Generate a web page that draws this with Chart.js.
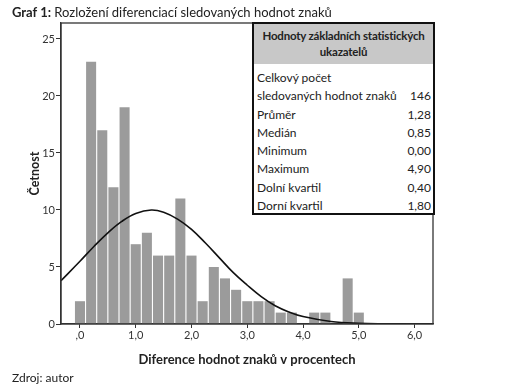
<!DOCTYPE html>
<html>
<head>
<meta charset="utf-8">
<script src="https://cdn.jsdelivr.net/npm/chart.js@4/dist/chart.umd.min.js"></script>
<style>
  body { margin: 0; background: #fff; }
  #wrap { position: relative; width: 520px; height: 392px; font-family: Lato, "Open Sans", sans-serif; color: #222; }
  #title { position: absolute; left: 12px; top: 4px; font-size: 13px; }
  #source { position: absolute; left: 12px; top: 370px; font-size: 12px; }
  #stats { position: absolute; left: 252px; top: 22px; width: 179px; height: 189px; border: 2px solid #111;
           background: #fff; font-size: 12px; white-space: nowrap; overflow: hidden; }
  #stats .head { background: #c8c8c8; height: 40px; text-align: center; font-weight: bold; line-height: 16px;
                 padding-top: 4px; box-sizing: border-box; font-size: 11.5px; letter-spacing: -0.2px; }
  #stats .row { display: flex; justify-content: space-between; height: 18.3px; line-height: 18.3px; padding: 0 2px 0 3px; }
  #rows { padding-top: 5px; }
</style>
</head>
<body>
<div id="wrap">
  <canvas id="myChart" width="520" height="392"></canvas>
  <div id="title"><b>Graf 1:</b> Rozložení diferenciací sledovaných hodnot znaků</div>
  <div id="stats">
    <div class="head">Hodnoty základních statistických<br>ukazatelů</div>
    <div id="rows"></div>
  </div>
  <div id="source">Zdroj: autor</div>
</div>
<script>
// histogram bins (class midpoints, %) and counts
const binCenters = [0.0, 0.2, 0.4, 0.6, 0.8, 1.0, 1.2, 1.4, 1.6, 1.8, 2.0, 2.2, 2.4,
  2.6, 2.8, 3.0, 3.2, 3.4, 3.6, 3.8, 4.0, 4.2, 4.4, 4.6, 4.8, 5.0];
const binCounts = [2, 23, 17, 12, 19, 7, 8, 6, 6, 11, 6, 2, 5,
  4, 3, 2, 2, 2, 1, 1, 0, 1, 1, 0, 4, 1];

// fitted normal curve
const curveX = [-0.34, 0, 0.25, 0.5, 0.75, 1.0, 1.28, 1.5, 1.75, 2.0, 2.25, 2.5, 2.75,
  3.0, 3.25, 3.5, 3.75, 4.0, 4.5, 5.0, 5.5, 6.0, 6.33];
const curveY = [3.8, 5.5, 6.8, 8.0, 9.0, 9.7, 10.0, 9.8, 9.2, 8.3, 7.1, 5.8, 4.5,
  3.4, 2.4, 1.6, 1.05, 0.65, 0.22, 0.06, 0.02, 0.0, 0.0];

const xTicks = [0, 1, 2, 3, 4, 5, 6];
const xTickLabels = [",0", "1,0", "2,0", "3,0", "4,0", "5,0", "6,0"];
const yTicks = [0, 5, 10, 15, 20, 25];

const statLabels = ["Celkový počet\nsledovaných hodnot znaků", "Průměr", "Medián", "Minimum",
  "Maximum", "Dolní kvartil", "Dorní kvartil"];
const statValues = ["146", "1,28", "0,85", "0,00", "4,90", "0,40", "1,80"];

const rowsEl = document.getElementById("rows");
statLabels.forEach((label, i) => {
  const lines = label.split("\n");
  lines.forEach((line, j) => {
    const row = document.createElement("div");
    row.className = "row";
    const a = document.createElement("span");
    a.textContent = line;
    const b = document.createElement("span");
    b.textContent = j === lines.length - 1 ? statValues[i] : "";
    row.appendChild(a);
    row.appendChild(b);
    rowsEl.appendChild(row);
  });
});

const frame = {
  id: "frame",
  afterDatasetsDraw(chart) {
    const { ctx, chartArea: a } = chart;
    ctx.save();
    ctx.strokeStyle = "#333";
    ctx.lineWidth = 1.3;
    ctx.strokeRect(a.left, a.top, a.right - a.left, a.bottom - a.top);
    ctx.restore();
  },
};

const fontFam = "Lato, 'Open Sans', sans-serif";

new Chart(document.getElementById("myChart"), {
  type: "bar",
  data: {
    datasets: [
      {
        type: "line",
        data: curveX.map((x, i) => ({ x: x, y: curveY[i] })),
        borderColor: "#111",
        borderWidth: 1.6,
        pointRadius: 0,
        tension: 0.4,
        fill: false,
        order: 0,
      },
      {
        data: binCenters.map((x, i) => ({ x: x, y: binCounts[i] })),
        backgroundColor: "#9b9b9b",
        barPercentage: 0.9,
        categoryPercentage: 1,
        order: 1,
      },
    ],
  },
  options: {
    responsive: false,
    animation: false,
    layout: { padding: { left: 0, top: 23, right: 87, bottom: 24 } },
    plugins: { legend: { display: false }, tooltip: { enabled: false } },
    scales: {
      x: {
        type: "linear",
        offset: false,
        min: -0.34,
        max: 6.33,
        afterBuildTicks: (s) => { s.ticks = xTicks.map((v) => ({ value: v })); },
        afterFit: (s) => { s.height = 44; },
        grid: { offset: false, drawOnChartArea: false, drawTicks: true, tickLength: 4, color: "#333" },
        border: { color: "#333", width: 1.3 },
        ticks: {
          color: "#333",
          font: { family: fontFam, size: 11 },
          padding: 1,
          maxRotation: 0,
          callback: (v) => xTickLabels[xTicks.indexOf(v)],
        },
        title: {
          display: true,
          text: "Diference hodnot znaků v procentech",
          color: "#222",
          font: { family: fontFam, size: 13, weight: "bold" },
          padding: { top: 0, bottom: 0 },
        },
      },
      y: {
        min: 0,
        max: 26.4,
        afterBuildTicks: (s) => { s.ticks = yTicks.map((v) => ({ value: v })); },
        afterFit: (s) => { s.width = 61; },
        grid: { drawOnChartArea: false, drawTicks: true, tickLength: 5, color: "#333" },
        border: { color: "#333", width: 1.3 },
        ticks: { color: "#333", font: { family: fontFam, size: 11 }, padding: 1 },
        title: {
          display: true,
          text: "Četnost",
          color: "#222",
          font: { family: fontFam, size: 12.5, weight: "bold" },
          padding: { top: 27, bottom: 0 },
        },
      },
    },
  },
  plugins: [frame],
});
</script>
</body>
</html>
